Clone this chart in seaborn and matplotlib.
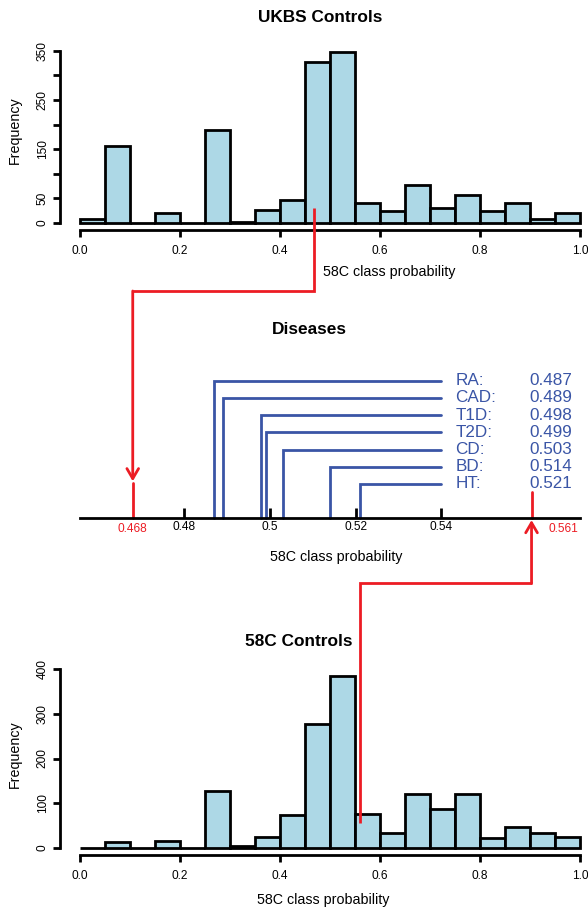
import numpy as np
import pandas as pd
import matplotlib
matplotlib.use('Agg')
import matplotlib.pyplot as plt
from matplotlib.lines import Line2D
import seaborn as sns

# histogram counts per 0.05 bin
bin_edges = [round(0.05 * i, 2) for i in range(21)]
ukbs_counts = [8, 157, 0, 20, 0, 188, 3, 27, 47, 327, 347, 40, 24, 77, 31, 57, 25, 40, 9, 20]
c58_counts = [0, 12, 0, 15, 0, 128, 3, 23, 73, 277, 385, 75, 32, 120, 86, 121, 21, 47, 34, 23]
hist_xticks = [0.0, 0.2, 0.4, 0.6, 0.8, 1.0]
ukbs_yticks = [0, 50, 100, 150, 200, 250, 300, 350]
ukbs_ylabels = ['0', '50', '', '150', '', '250', '', '350']
c58_yticks = [0, 100, 200, 300, 400]

# disease class probabilities
diseases = ['RA', 'CAD', 'T1D', 'T2D', 'CD', 'BD', 'HT']
disease_probs = [0.487, 0.489, 0.498, 0.499, 0.503, 0.514, 0.521]
disease_levels = [8, 7, 6, 5, 4, 3, 2]
mid_ticks = [0.48, 0.50, 0.52, 0.54]
mid_ticklabels = ['0.48', '0.5', '0.52', '0.54']

ukbs_mean = 0.468
c58_mean = 0.561

RED = '#EC1C24'
BLUE = '#3A55A6'
W, H = 588, 909

sns.set_style('ticks')
plt.rcParams['font.family'] = ['Liberation Sans', 'DejaVu Sans']
plt.rcParams.update({'text.color': 'black', 'axes.edgecolor': 'black',
                     'xtick.color': 'black', 'ytick.color': 'black',
                     'axes.labelcolor': 'black'})

fig = plt.figure(figsize=(W / 100, H / 100), dpi=100)


def px_axes(left, top, right, bottom):
    return fig.add_axes([left / W, 1 - bottom / H, (right - left) / W, (bottom - top) / H])


def hist_panel(ax, counts, yticks, ylabels):
    mids = [(a + b) / 2 for a, b in zip(bin_edges[:-1], bin_edges[1:])]
    df = pd.DataFrame({'prob': mids, 'n': counts})
    sns.histplot(data=df, x='prob', weights='n', bins=bin_edges, ax=ax, color='lightblue',
                 edgecolor='black', linewidth=2, alpha=1)
    top = max(counts)
    ax.set_xlim(-0.04, 1.04)
    ax.set_ylim(-0.04 * top, 1.04 * top)
    ax.set_xticks(hist_xticks)
    ax.set_xticklabels([f'{t:.1f}' for t in hist_xticks])
    ax.set_yticks(yticks)
    ax.set_yticklabels(ylabels, rotation=90, va='center')
    ax.set_xlabel('')
    ax.set_ylabel('')
    for s in ['top', 'right']:
        ax.spines[s].set_visible(False)
    ax.spines['left'].set_bounds(yticks[0], yticks[-1])
    ax.spines['bottom'].set_bounds(0, 1)
    ax.spines['left'].set_linewidth(2)
    ax.spines['bottom'].set_linewidth(2)
    ax.tick_params(axis='both', direction='out', length=5, width=2, labelsize=8.6,
                   colors='black')
    ax.tick_params(axis='x', pad=6)
    ax.tick_params(axis='y', pad=3)


# top histogram
ax_top = px_axes(60, 45.2, 600, 230)
hist_panel(ax_top, ukbs_counts, ukbs_yticks, ukbs_ylabels)

# bottom histogram
ax_bot = px_axes(60, 669.1, 600, 854.6)
hist_panel(ax_bot, c58_counts, c58_yticks, [str(t) for t in c58_yticks])

# middle panel
ax_mid = px_axes(80, 346.3, 580, 518.3)
ax_mid.set_xlim(0.4557, 0.5723)
ax_mid.set_ylim(0, 10)
for s in ['top', 'right', 'left']:
    ax_mid.spines[s].set_visible(False)
ax_mid.spines['bottom'].set_linewidth(2)
ax_mid.set_yticks([])
ax_mid.set_xticks(mid_ticks)
ax_mid.set_xticklabels(mid_ticklabels)
ax_mid.tick_params(axis='x', direction='in', length=7, width=2, labelsize=8.6, pad=2,
                   colors='black')

for name, v, lev in zip(diseases, disease_probs, disease_levels):
    ax_mid.plot([v, v, 0.54], [0, lev, lev], color=BLUE, lw=2,
                solid_joinstyle='miter', clip_on=False)
    ax_mid.text(0.5432, lev, name + ':', color=BLUE, fontsize=12.3, va='center')
    ax_mid.text(0.5705, lev, f'{v:.3f}', color=BLUE, fontsize=12.3, va='center', ha='right')

# red markers on the disease axis
ax_mid.plot([ukbs_mean, ukbs_mean], [0, 2.05], color=RED, lw=2, clip_on=False)
ax_mid.plot([c58_mean, c58_mean], [0, 1.55], color=RED, lw=2, clip_on=False)
ax_mid.text(ukbs_mean, -0.25, f'{ukbs_mean:.3f}', color=RED, fontsize=8.6,
            ha='center', va='top', transform=ax_mid.transData)
ax_mid.text(0.966, -0.025, f'{c58_mean:.3f}', color=RED, fontsize=8.6,
            ha='center', va='top', transform=ax_mid.transAxes)


def to_fig(ax, x, y):
    return fig.transFigure.inverted().transform(ax.transData.transform((x, y)))


arrow = dict(arrowstyle='->,head_length=0.6,head_width=0.35', color=RED, lw=2,
             shrinkA=0, shrinkB=0, mutation_scale=12)

# connector from the UKBS histogram down to the disease axis
elbow_top = 1 - 291 / H
p0 = to_fig(ax_top, ukbs_mean, 31)
p2x = to_fig(ax_mid, ukbs_mean, 0)[0]
fig.add_artist(Line2D([p0[0], p0[0], p2x], [p0[1], elbow_top, elbow_top],
                      transform=fig.transFigure, color=RED, lw=2,
                      solid_joinstyle='miter', solid_capstyle='butt'))
ax_mid.annotate('', xy=(ukbs_mean, 2.15), xycoords='data', xytext=(p2x, elbow_top),
                textcoords='figure fraction', arrowprops=arrow, annotation_clip=False)

# connector from the 58C histogram up to the disease axis
elbow_bot = 1 - 583.3 / H
q0 = to_fig(ax_bot, c58_mean, 56)
q2x = to_fig(ax_mid, c58_mean, 0)[0]
fig.add_artist(Line2D([q0[0], q0[0], q2x], [q0[1], elbow_bot, elbow_bot],
                      transform=fig.transFigure, color=RED, lw=2,
                      solid_joinstyle='miter', solid_capstyle='butt'))
ax_mid.annotate('', xy=(c58_mean, -0.1), xycoords='data', xytext=(q2x, elbow_bot),
                textcoords='figure fraction', arrowprops=arrow, annotation_clip=False)


# titles and axis labels
def ftext(x, y, s, **kw):
    fig.text(x / W, 1 - y / H, s, ha='center', va='center', color='black', **kw)


ftext(320, 17, 'UKBS Controls', fontsize=12.4, fontweight='bold')
ftext(15, 130, 'Frequency', fontsize=10.3, rotation=90)
ftext(389, 271.7, '58C class probability', fontsize=10.3)
ftext(309, 329, 'Diseases', fontsize=12.4, fontweight='bold')
ftext(336, 556.7, '58C class probability', fontsize=10.3)
ftext(298.6, 641.7, '58C Controls', fontsize=12.4, fontweight='bold')
ftext(15, 754, 'Frequency', fontsize=10.3, rotation=90)
ftext(323, 900, '58C class probability', fontsize=10.3)

fig.savefig('out.png', dpi=100)
